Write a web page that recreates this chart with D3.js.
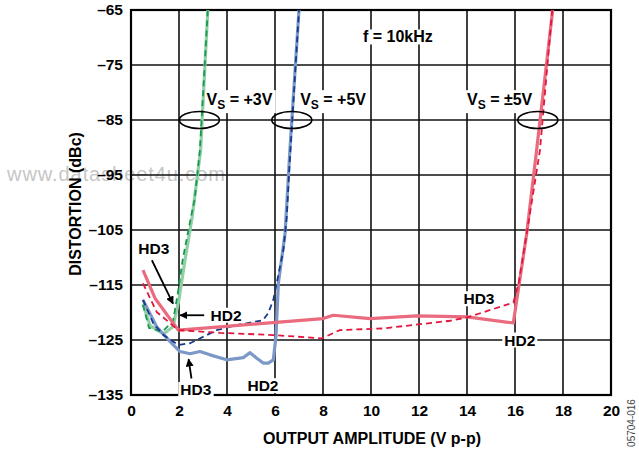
<!DOCTYPE html>
<html>
<head>
<meta charset="utf-8">
<script src="https://cdn.jsdelivr.net/npm/d3@7"></script>
<style>
  body { margin: 0; background: #fff; }
  text { font-family: "Liberation Sans", Arial, sans-serif; }
</style>
</head>
<body>
<svg id="chart" width="639" height="452"></svg>
<script>
// data: [output amplitude V p-p, distortion dBc]
const xTicks = [0, 2, 4, 6, 8, 10, 12, 14, 16, 18, 20];
const yTicks = [-65, -75, -85, -95, -105, -115, -125, -135];

const vs3HD2 = [[0.5,-118.5],[0.8,-122.4],[1.35,-123.9],[1.75,-122.6],[2.0,-117.6],[2.25,-110.5],[2.55,-102.6],[2.9,-90.5],[3.2,-65]];
const vs3HD3 = [[0.5,-118.6],[0.75,-122.8],[1.3,-123.5],[1.75,-121.6],[1.95,-116.5],[2.15,-110.5],[2.5,-102.6],[2.65,-99.5],[2.87,-90.5],[3.2,-65]];

const vs5HD2 = [[0.5,-117.7],[1.07,-122.6],[1.63,-125.3],[2.04,-127.1],[2.46,-127.5],[2.87,-127.1],[3.29,-127.7],[3.99,-128.6],[4.68,-128.2],[4.96,-127.3],[5.24,-128.3],[5.51,-129.2],[5.72,-129.2],[5.93,-128.6],[6.04,-124.4],[6.14,-114.7],[6.42,-105.6],[6.62,-90.5],[7.0,-65]];
const vs5HD3 = [[0.5,-117.7],[0.93,-122.0],[1.35,-124.1],[1.97,-125.9],[2.46,-125.6],[2.74,-125.0],[3.57,-123.2],[4.4,-122.3],[5.5,-121.4],[5.72,-120.1],[5.93,-117.7],[6.07,-114.7],[6.35,-108.6],[6.49,-102.6],[6.6,-93.5],[7.0,-65]];

const vs5dHD2 = [[0.5,-112.3],[1.0,-117.4],[1.97,-123.2],[3.71,-122.6],[8.0,-121.1],[8.43,-120.5],[9.96,-121.1],[11.9,-120.6],[14.0,-120.8],[15.93,-121.9],[16.49,-105.6],[16.9,-90.5],[17.57,-65]];
const vs5dHD3 = [[0.5,-114.7],[1.07,-119.9],[1.97,-123.2],[3.71,-123.7],[5.93,-124.1],[7.95,-124.7],[8.7,-123.2],[10.5,-122.9],[13.3,-121.5],[14.0,-120.9],[15.93,-118.2],[16.15,-114.7],[16.6,-102.6],[17.04,-90.5],[17.55,-65]];

const svg = d3.select("#chart");
const margin = {top: 10, right: 28, bottom: 57, left: 131};
const width = 639 - margin.left - margin.right,
      height = 452 - margin.top - margin.bottom;

const x = d3.scaleLinear().domain([0, 20]).range([0, width]);
const y = d3.scaleLinear().domain([-135, -65]).range([height, 0]);

// watermark (behind everything)
svg.append("text")
   .attr("x", 7)
   .attr("y", 181)
   .attr("font-size", 20)
   .attr("textLength", 218)
   .attr("fill", "#c6c6c6")
   .text("www.datasheet4u.com");

const g = svg.append("g")
             .attr("transform", "translate(" + margin.left + "," + margin.top + ")");

// grid
g.selectAll(".vgrid")
 .data(xTicks)
 .enter()
 .append("line")
 .attr("x1", d => x(d)).attr("x2", d => x(d))
 .attr("y1", 0).attr("y2", height)
 .attr("stroke", "#111").attr("stroke-width", 1.6);

g.selectAll(".hgrid")
 .data(yTicks)
 .enter()
 .append("line")
 .attr("x1", 0).attr("x2", width)
 .attr("y1", d => y(d)).attr("y2", d => y(d))
 .attr("stroke", "#111").attr("stroke-width", 1.6);

g.append("rect")
 .attr("width", width).attr("height", height)
 .attr("fill", "none").attr("stroke", "#000").attr("stroke-width", 2.2);

// tick labels
const xAxis = g.append("g")
               .attr("transform", "translate(0," + height + ")")
               .call(d3.axisBottom(x).tickValues(xTicks).tickSize(0).tickPadding(10).tickFormat(d3.format("d")));
const yAxis = g.append("g")
               .call(d3.axisLeft(y).tickValues(yTicks).tickSize(0).tickPadding(8).tickFormat(d => "\u2013" + Math.abs(d)));
[xAxis, yAxis].forEach(a => {
  a.select(".domain").remove();
  a.selectAll("text")
   .attr("font-family", "Liberation Sans, Arial, sans-serif")
   .attr("font-size", 15.5)
   .attr("font-weight", "bold")
   .attr("fill", "#000");
});

svg.append("text")
   .attr("x", margin.left + width / 2 + 1)
   .attr("y", 444)
   .attr("text-anchor", "middle")
   .attr("font-size", 16)
   .attr("font-weight", "bold")
   .text("OUTPUT AMPLITUDE (V p-p)");

svg.append("text")
   .attr("transform", "translate(81,204) rotate(-90)")
   .attr("text-anchor", "middle")
   .attr("font-size", 16)
   .attr("font-weight", "bold")
   .text("DISTORTION (dBc)");

svg.append("text")
   .attr("transform", "translate(635,423) rotate(-90)")
   .attr("text-anchor", "middle")
   .attr("font-size", 10)
   .attr("fill", "#444")
   .text("05704-016");

// white-backed text labels
function label(txt, cx, cy, size) {
  const t = g.append("text")
             .attr("x", cx).attr("y", cy)
             .attr("text-anchor", "middle")
             .attr("dominant-baseline", "central")
             .attr("font-size", size || 15.5)
             .attr("font-weight", "bold")
             .text(txt);
  const b = t.node().getBBox();
  g.insert("rect", () => t.node())
   .attr("x", b.x - 2).attr("y", b.y + 1).attr("width", b.width + 4).attr("height", b.height - 2)
   .attr("fill", "#fff");
  return t;
}

function vsLabel(rest, lx, ly) {
  const t = g.append("text")
             .attr("x", lx).attr("y", ly)
             .attr("font-size", 16)
             .attr("font-weight", "bold");
  t.append("tspan").text("V");
  t.append("tspan").attr("dy", 4).attr("font-size", 12).text("S");
  t.append("tspan").attr("dy", -4).text(rest);
  const b = t.node().getBBox();
  g.insert("rect", () => t.node())
   .attr("x", b.x - 3).attr("y", b.y - 1).attr("width", b.width + 6).attr("height", b.height + 2)
   .attr("fill", "#fff");
}

vsLabel(" = +3V", x(3.15), y(-82.3));
vsLabel(" = +5V", x(7.05), y(-82.3));
vsLabel(" = \u00b15V", x(14.0), y(-82.3));
label("f = 10kHz", x(11.12), y(-69.9), 16);

label("HD3", x(0.95), y(-108.3));
label("HD2", x(3.96), y(-120.5));
label("HD3", x(2.7), y(-134.0));
label("HD2", x(5.5), y(-133.3));
label("HD3", x(14.5), y(-117.5));
label("HD2", x(16.2), y(-125.0));

// curves
const line = d3.line().x(d => x(d[0])).y(d => y(d[1]));

const series = [
  {data: vs3HD2, color: "#93cfa6", w: 3.2, dash: null},
  {data: vs3HD3, color: "#169a4e", w: 1.8, dash: "6,4"},
  {data: vs5HD2, color: "#7c98c8", w: 3.2, dash: null},
  {data: vs5HD3, color: "#163a8c", w: 1.8, dash: "6,4"},
  {data: vs5dHD2, color: "#ea6a7e", w: 3.2, dash: null},
  {data: vs5dHD3, color: "#e0183e", w: 1.8, dash: "6,4"}
];

g.selectAll(".curve")
 .data(series)
 .enter()
 .append("path")
 .attr("class", "curve")
 .attr("d", d => line(d.data))
 .attr("fill", "none")
 .attr("stroke", d => d.color)
 .attr("stroke-width", d => d.w)
 .attr("stroke-dasharray", d => d.dash)
 .attr("stroke-linejoin", "round");

// ellipses around the supply groups
[[2.85, -85], [6.7, -85], [16.95, -85]].forEach(p => {
  g.append("ellipse")
   .attr("cx", x(p[0])).attr("cy", y(p[1]))
   .attr("rx", 20).attr("ry", 8.5)
   .attr("fill", "none").attr("stroke", "#000").attr("stroke-width", 1.6);
});

// arrows
svg.append("defs").append("marker")
   .attr("id", "arr")
   .attr("viewBox", "0 0 10 10")
   .attr("refX", 9).attr("refY", 5)
   .attr("markerWidth", 8).attr("markerHeight", 8)
   .attr("markerUnits", "userSpaceOnUse")
   .attr("orient", "auto")
   .append("path").attr("d", "M0,0 L10,5 L0,10 Z").attr("fill", "#000");

[[[0.87, -110.5], [1.75, -118.4]],
 [[3.05, -120.5], [2.05, -120.5]],
 [[2.52, -132.0], [2.4, -128.5]]].forEach(a => {
  g.append("line")
   .attr("x1", x(a[0][0])).attr("y1", y(a[0][1]))
   .attr("x2", x(a[1][0])).attr("y2", y(a[1][1]))
   .attr("stroke", "#000").attr("stroke-width", 1.8)
   .attr("marker-end", "url(#arr)");
});
</script>
</body>
</html>
